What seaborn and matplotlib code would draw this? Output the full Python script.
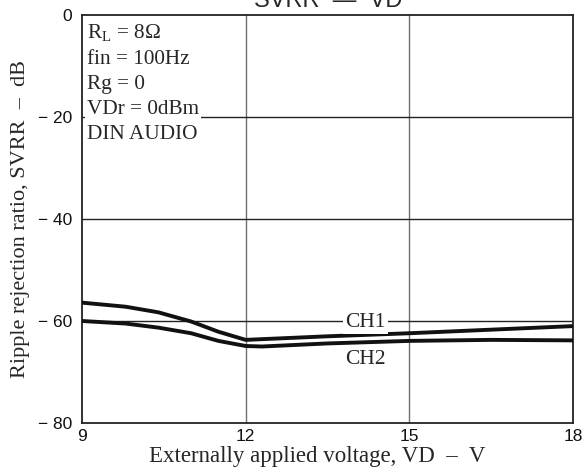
import pandas as pd
import matplotlib
matplotlib.use("Agg")
import matplotlib.pyplot as plt
import seaborn as sns

# values (VD in volts, SVRR in dB)
ch1_vd = [9, 9.8, 10.4, 11.0, 11.5, 12.0, 13.5, 15, 16.5, 18]
ch1_svrr = [-56.4, -57.2, -58.3, -60.1, -62.1, -63.7, -63.0, -62.4, -61.7, -61.0]
ch2_vd = [9, 9.8, 10.4, 11.0, 11.5, 12.0, 12.3, 13.5, 15, 16.5, 18]
ch2_svrr = [-60.0, -60.5, -61.3, -62.4, -63.9, -64.9, -65.0, -64.4, -63.9, -63.7, -63.8]

x_ticks = [9, 12, 15, 18]
y_ticks = [0, -20, -40, -60, -80]
y_tick_labels = ["0", "\u2212 20", "\u2212 40", "\u2212 60", "\u2212 80"]

df = pd.concat([
    pd.DataFrame({"vd": ch1_vd, "svrr": ch1_svrr, "ch": "CH1"}),
    pd.DataFrame({"vd": ch2_vd, "svrr": ch2_svrr, "ch": "CH2"}),
], ignore_index=True)

sns.set_style("white")
plt.rcParams["font.family"] = ["Liberation Sans", "DejaVu Sans"]
serif = ["Liberation Serif", "DejaVu Serif"]

fig = plt.figure(figsize=(5.84, 4.74), dpi=100)
ax = fig.add_axes([82 / 584, 51 / 474, 491 / 584, 408 / 474])

# grid
for v in [12, 15]:
    ax.axvline(v, color="#707070", lw=1.0, zorder=1)
for v in [-20, -40, -60]:
    ax.axhline(v, color="#222222", lw=1.0, zorder=1)

sns.lineplot(data=df, x="vd", y="svrr", units="ch", estimator=None,
             color="#111111", lw=2.8, ax=ax, zorder=3)

ax.set_xlim(9, 18)
ax.set_ylim(-80, 0)
ax.set_xticks(x_ticks)
ax.set_yticks(y_ticks)
ax.set_yticklabels(y_tick_labels)
ax.tick_params(length=0, labelsize=12.5, colors="#111111")
ax.tick_params(axis="x", pad=4)
ax.tick_params(axis="y", pad=7)
for s in ax.spines.values():
    s.set_color("#222222")
    s.set_linewidth(1.3)

ax.set_xlabel("Externally applied voltage, VD  \u2013  V", family=serif,
              fontsize=16.5, labelpad=2)
ax.xaxis.label.set_x((317 - 82) / 491)
ax.set_ylabel("Ripple rejection ratio, SVRR  \u2013  dB", family=serif,
              fontsize=16, labelpad=6)

# curve labels
box = dict(facecolor="white", edgecolor="none", pad=1.5)
ax.text(14.2, -60.2, "CH1", family=serif, fontsize=15.5, ha="center",
        va="center", bbox=box, zorder=4)
ax.text(14.2, -67.6, "CH2", family=serif, fontsize=15.5, ha="center",
        va="center", zorder=4)

# conditions block
cond = "R$_\\mathregular{L}$ = 8\u03a9\nfin = 100Hz\nRg = 0\nVDr = 0dBm\nDIN AUDIO"
ax.text(0.01, 0.982, cond, transform=ax.transAxes, family=serif,
        fontsize=15.3, ha="left", va="top", linespacing=1.43,
        bbox=dict(facecolor="white", edgecolor="none", pad=1), zorder=4)

fig.text(328 / 584, 1 - 7 / 474, "SVRR  \u2014  VD", ha="center",
         va="baseline", fontsize=17)

fig.savefig("out.png", dpi=100, facecolor="white")
